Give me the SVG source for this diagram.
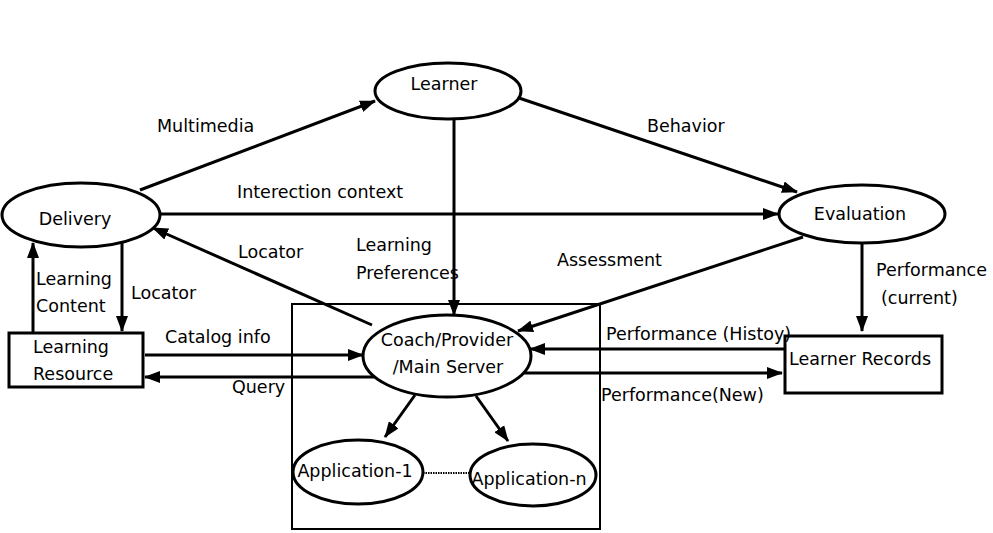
<svg xmlns="http://www.w3.org/2000/svg" width="993" height="533" viewBox="0 0 993 533">
<style>
text{font-family:"DejaVu Sans",sans-serif;font-size:17.5px;fill:#000}
.n{fill:#fff;stroke:#000;stroke-width:3}
.c{stroke:#000;stroke-width:3;fill:none;marker-end:url(#ah)}
</style>
<defs>
<marker id="ah" markerUnits="userSpaceOnUse" markerWidth="16" markerHeight="12" refX="15" refY="6" orient="auto"><path d="M0,0 L16,6 L0,12 z" fill="#000"/></marker>
</defs>
<rect width="993" height="533" fill="#fff"/>
<rect x="292" y="304" width="308" height="225" fill="none" stroke="#000" stroke-width="2"/>
<g id="connectors">
<line class="c" x1="140" y1="190" x2="375" y2="101"/>
<line class="c" x1="519" y1="98" x2="797" y2="192"/>
<line class="c" x1="160" y1="214" x2="778" y2="214"/>
<line class="c" x1="454" y1="120" x2="454" y2="315"/>
<line class="c" x1="803" y1="237" x2="518" y2="331"/>
<line class="c" x1="862" y1="243" x2="862" y2="331"/>
<line class="c" x1="372" y1="325" x2="153" y2="228"/>
<line class="c" x1="33" y1="332" x2="33" y2="243"/>
<line class="c" x1="122" y1="241" x2="122" y2="331"/>
<line class="c" x1="145" y1="355" x2="363" y2="355"/>
<line class="c" x1="375" y1="377" x2="145" y2="377"/>
<line class="c" x1="785" y1="349" x2="530" y2="349"/>
<line class="c" x1="520" y1="373" x2="782" y2="373"/>
<line class="c" x1="415" y1="395" x2="385" y2="437"/>
<line class="c" x1="476" y1="396" x2="508" y2="441"/>
<line x1="423" y1="473" x2="470" y2="473" stroke="#000" stroke-width="2" stroke-dasharray="1.5,1"/>
</g>
<g id="learner"><ellipse class="n" cx="448" cy="91" rx="73" ry="28"/><text x="444" y="90" text-anchor="middle">Learner</text></g>
<g id="delivery"><ellipse class="n" cx="81" cy="215" rx="79" ry="32"/><text x="75" y="225" text-anchor="middle">Delivery</text></g>
<g id="evaluation"><ellipse class="n" cx="862" cy="214" rx="83" ry="29"/><text x="860" y="220" text-anchor="middle">Evaluation</text></g>
<g id="coach"><ellipse class="n" cx="447" cy="356" rx="84" ry="41"/><text x="447" y="346" text-anchor="middle">Coach/Provider</text><text x="448" y="373" text-anchor="middle">/Main Server</text></g>
<g id="app1"><ellipse class="n" cx="358" cy="472" rx="65" ry="32"/><text x="355" y="477" text-anchor="middle">Application-1</text></g>
<g id="appn"><ellipse class="n" cx="533" cy="475" rx="63" ry="31"/><text x="529" y="485" text-anchor="middle">Application-n</text></g>
<g id="learningResource"><rect class="n" x="9" y="333" width="134" height="54"/><text x="33" y="353">Learning</text><text x="33" y="380">Resource</text></g>
<g id="learnerRecords"><rect class="n" x="785" y="336" width="157" height="57"/><text x="789" y="365">Learner Records</text></g>
<g id="labels">
<text x="157" y="132">Multimedia</text>
<text x="647" y="132">Behavior</text>
<text x="237" y="198">Interection context</text>
<text x="238" y="258">Locator</text>
<text x="356" y="251">Learning</text>
<text x="356" y="279">Preferences</text>
<text x="557" y="266">Assessment</text>
<text x="876" y="276">Performance</text>
<text x="881" y="304">(current)</text>
<text x="36" y="285">Learning</text>
<text x="36" y="312">Content</text>
<text x="131" y="299">Locator</text>
<text x="165" y="343">Catalog info</text>
<text x="232" y="393">Query</text>
<text x="606" y="340">Performance (Histoy)</text>
<text x="601" y="401">Performance(New)</text>
</g>
</svg>
